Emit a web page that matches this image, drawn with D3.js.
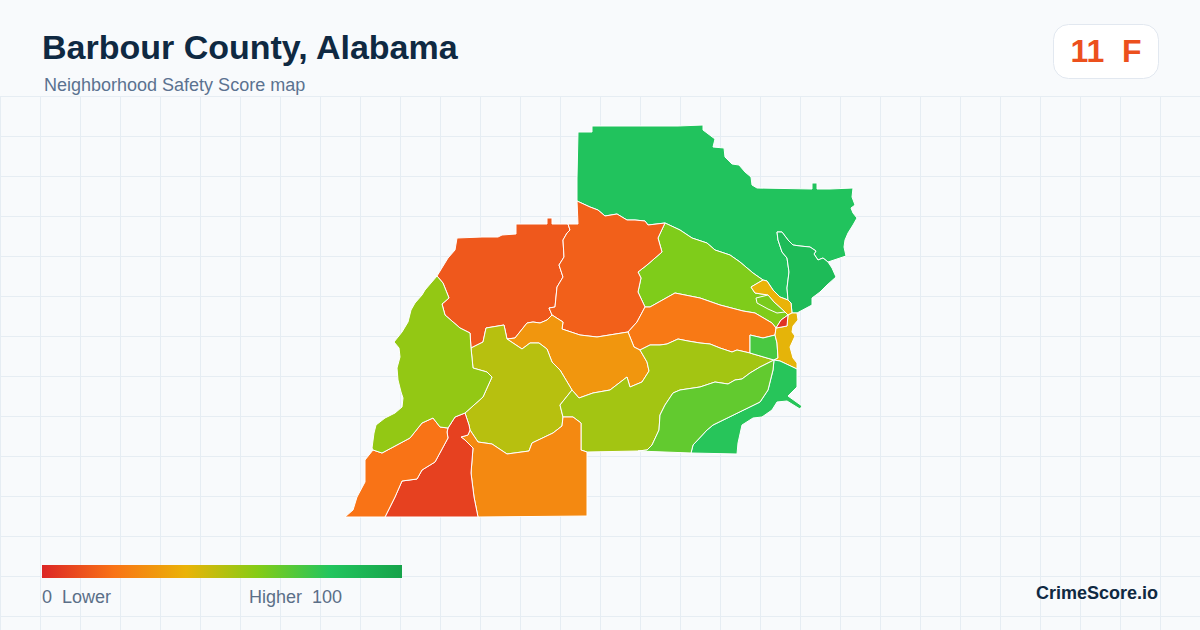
<!DOCTYPE html>
<html>
<head>
<meta charset="utf-8">
<title>Barbour County, Alabama</title>
<script src="https://cdn.jsdelivr.net/npm/d3@7"></script>
<style>
  html, body { margin: 0; padding: 0; background: #f8fafc; }
  svg { display: block; font-family: "Liberation Sans", Arial, sans-serif; }
  text { white-space: pre; }
</style>
</head>
<body>
<svg id="chart"></svg>
<script>
'use strict';
// boundary pieces, in map units, shared between neighbours
const swOuter = [[5,397],[13,390],[17,377],[25,362],[25,340],[33,330]];
const limeOuter = [[33,330],[32,328],[34,313],[36,305],[45,298],[55,293],[62,287],[63,278],[61,272],[58,260],[57,248],[60,237],[59,228],[54,222],[62,212],[68,202],[71,190],[75,183],[82,175],[85,170],[97,156]];
const nwOuter = [[97,156],[108,138],[115,130],[117,118],[142,117],[158,117],[162,115],[176,114],[176,104],[207,104],[207,98],[212,98],[212,104],[228,104]];
const ncOuter = [[228,104],[238,104],[237,81]];
const topOuter = [[237,81],[237,58],[238,12],[252,12],[252,6],[338,6],[363,5],[363,10],[367,13],[375,19],[373,27],[384,28],[385,37],[392,44],[399,45],[405,52],[411,57],[412,65],[417,68],[472,69],[472,63],[477,63],[477,69],[490,69],[513,68],[512,77],[515,85],[511,88],[513,93],[517,98],[513,105],[508,113],[505,120],[504,127],[506,136],[488,142]];
const neWest = [[448,180],[447,168],[449,152],[447,138],[442,132],[438,120],[437,112],[442,112],[448,120],[453,125],[460,126],[470,127],[476,131],[474,134],[478,140],[483,138],[488,142]];
const neEast = [[488,142],[492,148],[496,157],[487,165],[480,172],[472,178],[472,185],[457,193]];
const neSouth = [[457,193],[452,193]];
const neYl = [[452,193],[451,183],[448,180]];
const yellowTop = [[423,160],[427,161],[433,170],[440,177],[448,180]];
const yellowLow = [[423,160],[411,167],[415,173],[428,175],[434,182],[445,192],[448,195]];
const stripEnd = [[448,195],[452,193]];
const limeNorth = [[325,103],[340,110],[352,118],[367,123],[375,130],[390,135],[400,142],[413,153],[423,160]];
const ncNorth = [[237,81],[250,87],[258,90],[265,96],[277,94],[287,100],[295,100],[305,101],[308,105],[325,103]];
const ncLime = [[325,103],[318,118],[322,132],[307,145],[298,152],[301,158],[298,172],[305,187]];
const ncOrange = [[305,187],[297,202],[288,212]];
const ncCentral = [[288,212],[257,217],[240,215],[222,209],[223,202],[212,195]];
const nwNc = [[228,104],[230,110],[227,113],[223,120],[224,137],[219,145],[223,157],[217,167],[215,187],[209,188],[212,195]];
const nwCentral = [[212,195],[207,200],[200,203],[193,202],[187,203],[175,218],[167,219]];
const nwOlive = [[167,219],[164,205],[146,208],[143,222],[131,228]];
const nwLime = [[131,228],[130,213],[120,208],[105,195],[102,184],[109,178],[103,163],[97,156]];
const limeOlive = [[131,228],[133,248],[147,252],[152,257],[147,268],[143,277],[125,293]];
const limeRed = [[125,293],[115,297],[108,308]];
const limeSw = [[108,308],[100,307],[93,298],[82,303],[70,318],[42,333],[33,330]];
const swRed = [[108,308],[107,312],[108,318],[95,342],[82,350],[77,359],[62,361],[55,377],[45,397]];
const swBottom = [[45,397],[5,397]];
const redBottom = [[138,397],[45,397]];
const oliveRed = [[125,293],[129,305],[130,310]];
const redOrange = [[130,310],[128,315],[121,317],[125,320],[133,328],[131,353],[134,377],[138,397]];
const oliveOrange = [[130,310],[138,322],[152,324],[167,334],[189,331],[192,323],[213,313],[222,306],[223,297]];
const oliveYl = [[223,297],[220,285],[232,270]];
const oliveCentral = [[167,219],[182,229],[190,223],[199,223],[207,229],[212,242],[220,250],[232,270]];
const centralYl = [[232,270],[239,278],[253,273],[270,270],[287,257],[290,267],[302,262],[309,251],[307,242],[300,230]];
const centralOrange = [[300,230],[294,227],[288,212]];
const orangeYl = [[300,230],[310,225],[320,225],[327,224],[338,219],[348,221],[360,223],[370,224],[380,228],[392,232],[397,230],[410,233]];
const greenYl = [[410,233],[427,238],[434,240]];
const orangeGreen = [[410,233],[410,215],[423,218],[435,215]];
const greenEast = [[435,215],[437,223],[438,238],[434,240]];
const orangeNorth = [[305,187],[310,187],[335,173],[360,178],[380,185],[403,191],[415,193],[432,203],[436,208]];
const orangeLink = [[436,208],[435,215]];
const limeSmallRed = [[448,195],[441,200],[436,208]];
const redEast = [[436,208],[447,206],[448,195]];
const eastOuter = [[457,193],[458,200],[453,206],[452,212],[455,216],[450,227],[453,238],[457,243],[457,249]];
const seNorth = [[434,240],[440,241],[457,249]];
const seOuter = [[457,249],[457,267],[448,276],[462,286],[460,289],[447,281],[437,282],[432,290],[422,297],[413,298],[402,305],[398,323],[397,334],[351,333]];
const seWest = [[434,240],[433,250],[428,270],[420,282],[373,305],[367,310],[353,325],[351,333]];
const lgTop = [[434,240],[420,247],[410,253],[402,259],[395,260],[388,264],[375,262],[360,267],[340,270],[333,273],[325,285],[320,295],[319,310],[312,325],[307,330],[298,331]];
const lgBottom = [[298,331],[351,333]];
const ylBottom = [[247,332],[298,331]];
const ylOrange = [[223,297],[233,297],[241,303],[241,330],[247,332]];
const orangeOuter = [[247,332],[247,396],[138,397]];
const smallRing = [[416,178],[428,175],[434,182],[445,192],[437,193],[428,189],[417,183],[416,178]];

// arcs of each area, r() walks a piece backwards
const r = a => a.slice().reverse();
const areaRings = [
  [topOuter, r(neWest), r(yellowTop), r(limeNorth), r(ncNorth)],
  [neWest, neEast, neSouth, neYl],
  [limeNorth, yellowLow, limeSmallRed, r(orangeNorth), r(ncLime)],
  [yellowTop, r(neYl), r(stripEnd), r(yellowLow)],
  [smallRing],
  [nwOuter, nwNc, nwCentral, nwOlive, nwLime],
  [ncOuter, ncNorth, ncLime, ncOrange, ncCentral, r(nwNc)],
  [orangeNorth, orangeLink, r(orangeGreen), r(orangeYl), centralOrange, r(ncOrange)],
  [r(ncCentral), r(centralOrange), r(centralYl), r(oliveCentral), r(nwCentral)],
  [oliveCentral, r(oliveYl), r(oliveOrange), r(oliveRed), r(limeOlive), r(nwOlive)],
  [centralYl, orangeYl, greenYl, lgTop, r(ylBottom), r(ylOrange), oliveYl],
  [orangeGreen, greenEast, r(greenYl)],
  [stripEnd, r(neSouth), eastOuter, r(seNorth), r(greenEast), r(orangeLink), redEast],
  [limeSmallRed, redEast],
  [seNorth, seOuter, r(seWest)],
  [seWest, r(lgBottom), r(lgTop)],
  [ylOrange, orangeOuter, r(redOrange), oliveOrange],
  [oliveRed, redOrange, redBottom, r(swRed), r(limeRed)],
  [swOuter, r(limeSw), swRed, swBottom],
  [limeOuter, r(nwLime), limeOlive, limeRed, limeSw]
];
// score of each area, same order as areaRings
const areaScores = [81, 86, 61, 40, 62, 13, 15, 22, 31, 50, 54, 72, 41, 3, 79, 67, 27, 7, 20, 57];

const titleText = "Barbour County, Alabama";
const subtitleText = "Neighborhood Safety Score map";
const countyScore = 11;
const countyGrade = "F";
const scoreStops = [0, 20, 40, 60, 80, 100];
const stopColors = ["#dc2626", "#f97316", "#eab308", "#84cc16", "#22c55e", "#16a34a"];
const legendLow = "0  Lower";
const legendHigh = "Higher  100";
const brandText = "CrimeScore.io";

const width = 1200;
const height = 630;

const color = d3.scaleLinear().domain(scoreStops).range(stopColors);

const svg = d3.select("#chart").attr("width", width).attr("height", height);
svg.append("rect").attr("width", width).attr("height", height).attr("fill", "#f8fafc");

// background grid
const grid = svg.append("g").attr("stroke", "#e6edf3").attr("stroke-width", 1);
grid.selectAll(".v").data(d3.range(0.5, width, 40)).enter().append("line")
  .attr("x1", d => d).attr("x2", d => d).attr("y1", 96.5).attr("y2", height);
grid.selectAll(".h").data(d3.range(96.5, height, 40)).enter().append("line")
  .attr("x1", 0).attr("x2", width).attr("y1", d => d).attr("y2", d => d);

// map
const features = areaRings.map((arcs, i) => {
  const ring = [];
  arcs.forEach(a => a.forEach(p => ring.push(p)));
  ring.push(ring[0]);
  return { type: "Feature", properties: { score: areaScores[i] }, geometry: { type: "Polygon", coordinates: [ring] } };
});
const collection = { type: "FeatureCollection", features: features };
const projection = d3.geoIdentity().fitExtent([[345, 125], [857, 517]], collection);
const path = d3.geoPath().projection(projection);

svg.append("g").selectAll("path")
  .data(features)
  .enter()
  .append("path")
  .attr("d", path)
  .attr("fill", d => color(d.properties.score))
  .attr("stroke", "#ffffff")
  .attr("stroke-width", 1)
  .attr("stroke-linejoin", "round");

// heading
svg.append("text").attr("x", 42).attr("y", 59)
  .attr("font-size", 34).attr("font-weight", "bold").attr("fill", "#0f2942")
  .text(titleText);
svg.append("text").attr("x", 44).attr("y", 91)
  .attr("font-size", 18).attr("fill", "#5b7290")
  .text(subtitleText);

// score badge
svg.append("rect").attr("x", 1053.5).attr("y", 24.5).attr("width", 105).attr("height", 54).attr("rx", 15)
  .attr("fill", "#ffffff").attr("stroke", "#e2e8f0");
svg.append("text").attr("x", 1106).attr("y", 62).attr("text-anchor", "middle")
  .attr("font-size", 32).attr("font-weight", "bold").attr("fill", color(countyScore))
  .text(countyScore + "  " + countyGrade);

// legend
const legendScale = d3.scaleLinear().domain([0, 100]).range([42, 402]);
const gradient = svg.append("defs").append("linearGradient").attr("id", "scoreGradient");
gradient.selectAll("stop").data(scoreStops).enter().append("stop")
  .attr("offset", d => d + "%")
  .attr("stop-color", d => color(d));
svg.append("rect").attr("x", legendScale(0)).attr("y", 565)
  .attr("width", legendScale(100) - legendScale(0)).attr("height", 13)
  .attr("fill", "url(#scoreGradient)");
svg.append("text").attr("x", 42).attr("y", 603).attr("font-size", 18).attr("fill", "#5b6f88").text(legendLow);
svg.append("text").attr("x", 249).attr("y", 603).attr("font-size", 18).attr("fill", "#5b6f88").text(legendHigh);

svg.append("text").attr("x", 1158).attr("y", 599).attr("text-anchor", "end")
  .attr("font-size", 18).attr("font-weight", "bold").attr("fill", "#0f2942")
  .text(brandText);
</script>
</body>
</html>
